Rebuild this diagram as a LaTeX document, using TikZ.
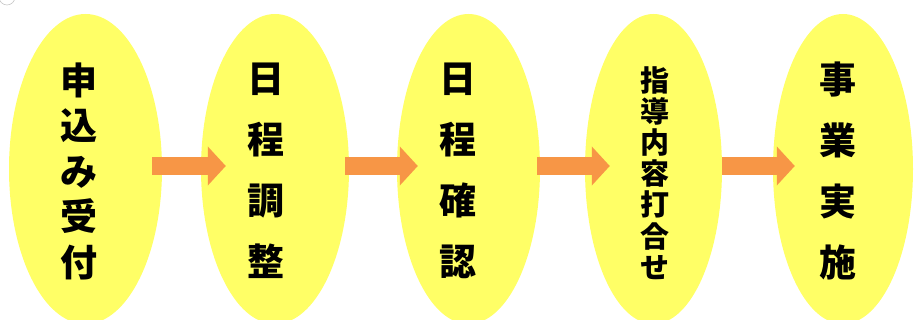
\documentclass[tikz,border=0pt]{standalone}
\usepackage{fontspec}
\newfontfamily\cjk{Noto Sans CJK JP}
\usetikzlibrary{shapes.geometric,arrows.meta}
\definecolor{bubble}{HTML}{FFFF66}
\definecolor{flow}{HTML}{F79646}
\begin{document}
\begin{tikzpicture}[x=1pt,y=-1pt,
  stepell/.style={ellipse,fill=bubble,draw=none,inner sep=0pt,minimum height=310pt},
  bigtext/.style={inner sep=0pt,align=center,font=\cjk\bfseries\fontsize{37}{61}\selectfont},
  midtext/.style={inner sep=0pt,align=center,font=\cjk\bfseries\fontsize{37}{45.5}\selectfont},
  smalltext/.style={inner sep=0pt,align=center,font=\cjk\bfseries\fontsize{29}{31.2}\selectfont},
  flowarrow/.style={draw=flow,line width=18pt,-{Triangle[length=18pt,width=38pt]}}]
\useasboundingbox (0,0) rectangle (914,320);
\begin{scope}
\clip (0,0) rectangle (914,320);
\draw[gray!45,line width=0.6pt] (7,-3) circle (8);
\node[stepell,minimum width=153pt] (e1) at (85.5,169) {};
\node[stepell,minimum width=148pt] (e2) at (275,169) {};
\node[stepell,minimum width=143pt] (e3) at (468.5,169) {};
\node[stepell,minimum width=137pt] (e4) at (653.5,169) {};
\node[stepell,minimum width=140pt] (e5) at (843,169) {};
\end{scope}
\draw[flowarrow] ([shift={(-10pt,3pt)}]e1.east) -- ([shift={(25pt,3pt)}]e2.west);
\draw[flowarrow] ([shift={(-4pt,3pt)}]e2.east) -- ([shift={(21pt,3pt)}]e3.west);
\draw[flowarrow] ([shift={(-3pt,3pt)}]e3.east) -- ([shift={(25pt,3pt)}]e4.west);
\draw[flowarrow] ([shift={(0pt,3pt)}]e4.east) -- ([shift={(22pt,3pt)}]e5.west);
\node[midtext] (t1) at (79,171) {申\\込\\み\\受\\付};
\node[bigtext] (t2) at (266,171) {日\\程\\調\\整};
\node[bigtext] (t3) at (458,171) {日\\程\\確\\認};
\node[smalltext] (t4) at (655,173) {指\\導\\内\\容\\打\\合\\せ};
\node[bigtext] (t5) at (838,171) {事\\業\\実\\施};
\end{tikzpicture}
\end{document}
